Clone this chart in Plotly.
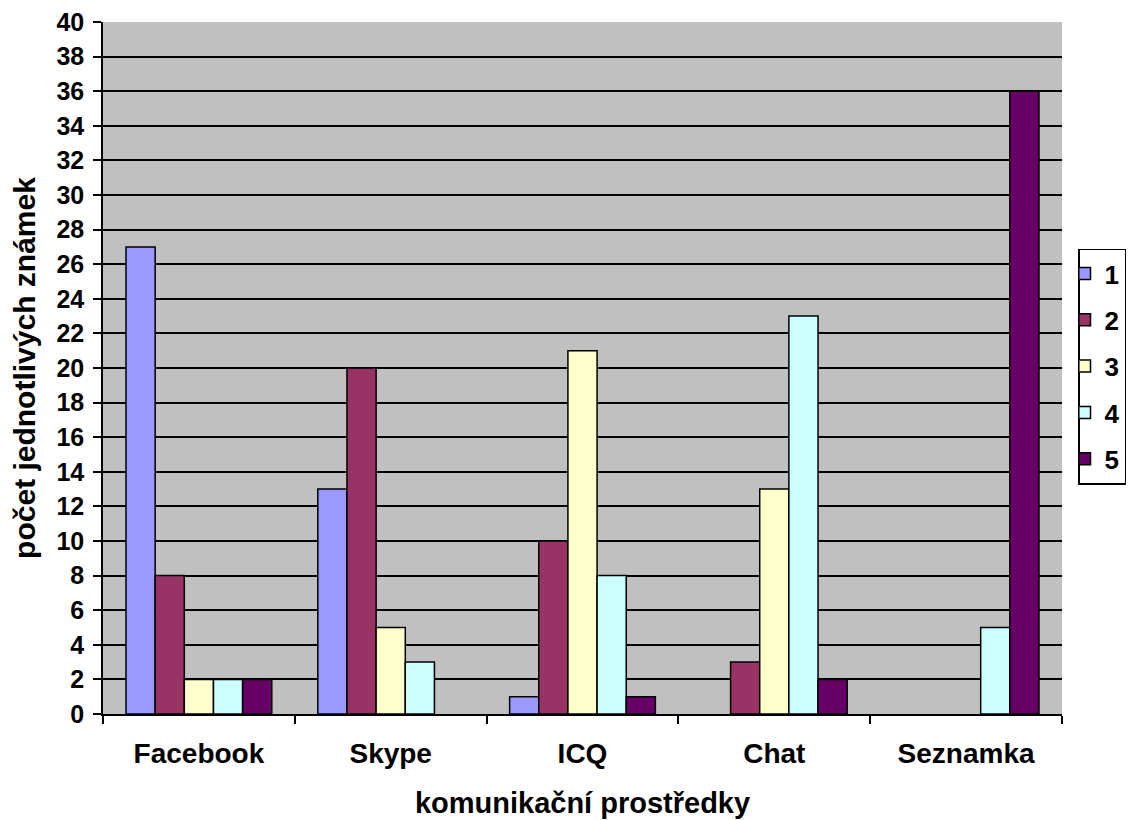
import plotly.graph_objects as go

categories = ["Facebook", "Skype", "ICQ", "Chat", "Seznamka"]
series_names = ["1", "2", "3", "4", "5"]
values_1 = [27, 13, 1, 0, 0]
values_2 = [8, 20, 10, 3, 0]
values_3 = [2, 5, 21, 13, 0]
values_4 = [2, 3, 8, 23, 5]
values_5 = [2, 0, 1, 2, 36]
colors = ["#9999FF", "#993366", "#FFFFCC", "#CCFFFF", "#660066"]
y_ticks = list(range(0, 41, 2))

series = [values_1, values_2, values_3, values_4, values_5]

fig = go.Figure()
for i, (name, vals) in enumerate(zip(series_names, series)):
    fig.add_trace(go.Bar(
        x=categories,
        y=[v if v != 0 else None for v in vals],
        name=name,
        legendgroup=name,
        marker=dict(color=colors[i], line=dict(color="black", width=1.5)),
    ))

font_family = "Liberation Sans, Arial, sans-serif"
fig.update_layout(
    width=1140, height=812,
    margin=dict(l=95, r=86, t=14, b=106),
    paper_bgcolor="white",
    plot_bgcolor="#C0C0C0",
    barmode="group",
    bargap=0.24,
    bargroupgap=0,
    font=dict(family=font_family, size=20, color="black"),
    legend=dict(
        x=1.0167, y=0.502, xanchor="left", yanchor="middle",
        bordercolor="black", borderwidth=1.5,
        font=dict(size=26, family=font_family, weight="bold"),
        tracegroupgap=9.5,
        traceorder="grouped",
        itemwidth=30,
        indentation=-15,
    ),
    showlegend=True,
)
fig.update_xaxes(
    title=dict(text="<b>komunikační prostředky</b>", standoff=24, font=dict(size=29)),
    tickfont=dict(size=28, weight="bold"),
    showline=True, linecolor="black", linewidth=1.5,
    ticks="outside", ticklen=8, tickcolor="black", tickwidth=1.5,
    tickson="boundaries",
    ticklabelstandoff=14,
    showgrid=False,
    automargin=False,
)
fig.update_yaxes(
    title=dict(text="<b>počet jednotlivých známek</b>", standoff=16, font=dict(size=30)),
    range=[0, 40],
    tickvals=y_ticks,
    tickfont=dict(size=25, weight="bold"),
    ticklabeloverflow="allow",
    ticklabelstandoff=4,
    showline=True, linecolor="black", linewidth=1.5,
    ticks="outside", ticklen=8, tickcolor="black", tickwidth=1.5,
    showgrid=True, gridcolor="black", gridwidth=1.5,
    zeroline=False,
    automargin=False,
)

fig.write_html("out.html")
